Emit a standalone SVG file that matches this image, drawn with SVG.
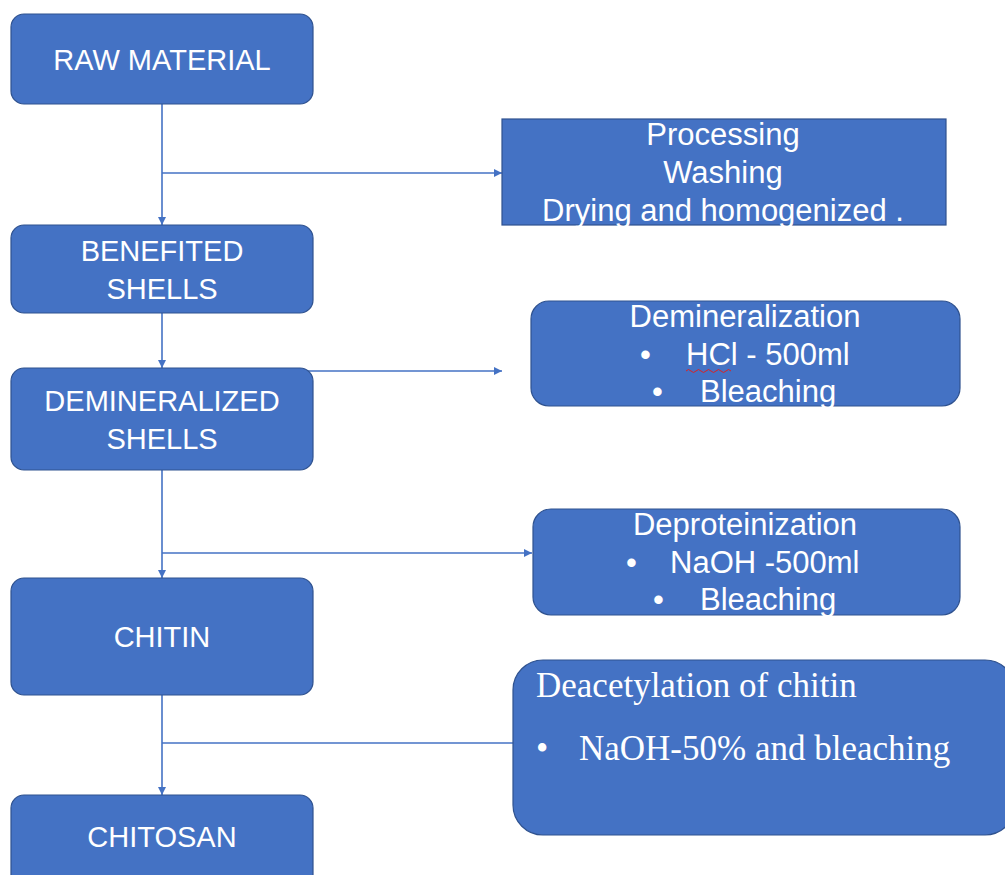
<svg xmlns="http://www.w3.org/2000/svg" width="1005" height="875" viewBox="0 0 1005 875">
<style>
.box{fill:#4472C4;stroke:#2F528F;stroke-width:1.2}
.t{font-family:"Liberation Sans",Arial,sans-serif;font-size:29px;fill:#fff;text-anchor:middle}
.tr{font-family:"Liberation Sans",Arial,sans-serif;font-size:31px;fill:#fff;text-anchor:middle}
.tl{font-family:"Liberation Sans",Arial,sans-serif;font-size:31px;fill:#fff}
.s{font-family:"Liberation Serif","Times New Roman",serif;font-size:35px;fill:#fff}
.c{stroke:#4472C4;stroke-width:1.6;fill:none}
</style>
<defs>
<marker id="ah" viewBox="0 0 10 10" refX="10" refY="5" markerWidth="8" markerHeight="8" orient="auto" markerUnits="userSpaceOnUse">
<path d="M0,0 L10,5 L0,10 z" fill="#4472C4"/>
</marker>
</defs>
<rect width="1005" height="875" fill="#fff"/>
<g id="connectors">
<line class="c" x1="162" y1="104" x2="162" y2="225" marker-end="url(#ah)"/>
<line class="c" x1="162" y1="173" x2="502" y2="173" marker-end="url(#ah)"/>
<line class="c" x1="162" y1="313" x2="162" y2="368" marker-end="url(#ah)"/>
<line class="c" x1="305" y1="371" x2="502" y2="371" marker-end="url(#ah)"/>
<line class="c" x1="162" y1="470" x2="162" y2="578" marker-end="url(#ah)"/>
<line class="c" x1="162" y1="553" x2="532" y2="553" marker-end="url(#ah)"/>
<line class="c" x1="162" y1="695" x2="162" y2="795" marker-end="url(#ah)"/>
<line class="c" x1="162" y1="743" x2="513" y2="743"/>
</g>
<g id="raw">
<rect class="box" x="11" y="14" width="302" height="90" rx="13"/>
<text class="t" x="162" y="70">RAW MATERIAL</text>
</g>
<g id="processing">
<rect class="box" x="502" y="119" width="444" height="106"/>
<text class="tr" x="723" y="145">Processing</text>
<text class="tr" x="723" y="183">Washing</text>
<text class="tr" x="723" y="221">Drying and homogenized .</text>
</g>
<g id="benefited">
<rect class="box" x="11" y="225" width="302" height="88" rx="13"/>
<text class="t" x="162" y="261">BENEFITED</text>
<text class="t" x="162" y="299">SHELLS</text>
</g>
<g id="demin-step">
<rect class="box" x="531" y="301" width="429" height="105" rx="18"/>
<text class="tr" x="745" y="327">Demineralization</text>
<text class="tl" x="640" y="365">•</text>
<text class="tl" x="686" y="365">HCl - 500ml</text>
<path d="M686,371 q2.5,-3 5,0 t5,0 t5,0 t5,0 t5,0 t5,0 t5,0 t5,0 t5,0" stroke="#d22" stroke-width="1" fill="none"/>
<text class="tl" x="652" y="402">•</text>
<text class="tl" x="700" y="402">Bleaching</text>
</g>
<g id="demineralized">
<rect class="box" x="11" y="368" width="302" height="102" rx="13"/>
<text class="t" x="162" y="411">DEMINERALIZED</text>
<text class="t" x="162" y="449">SHELLS</text>
</g>
<g id="deprot-step">
<rect class="box" x="533" y="509" width="427" height="106" rx="18"/>
<text class="tr" x="745" y="535">Deproteinization</text>
<text class="tl" x="626" y="573">•</text>
<text class="tl" x="670" y="573">NaOH -500ml</text>
<text class="tl" x="653" y="610">•</text>
<text class="tl" x="700" y="610">Bleaching</text>
</g>
<g id="chitin">
<rect class="box" x="11" y="578" width="302" height="117" rx="13"/>
<text class="t" x="162" y="647">CHITIN</text>
</g>
<g id="deacet-step">
<rect class="box" x="513" y="660" width="502" height="175" rx="30"/>
<text class="s" x="536" y="697">Deacetylation of chitin</text>
<text class="s" x="536" y="760">•</text>
<text class="s" x="579" y="760">NaOH-50% and bleaching</text>
</g>
<g id="chitosan">
<rect class="box" x="11" y="795" width="302" height="100" rx="13"/>
<text class="t" x="162" y="847">CHITOSAN</text>
</g>
</svg>
